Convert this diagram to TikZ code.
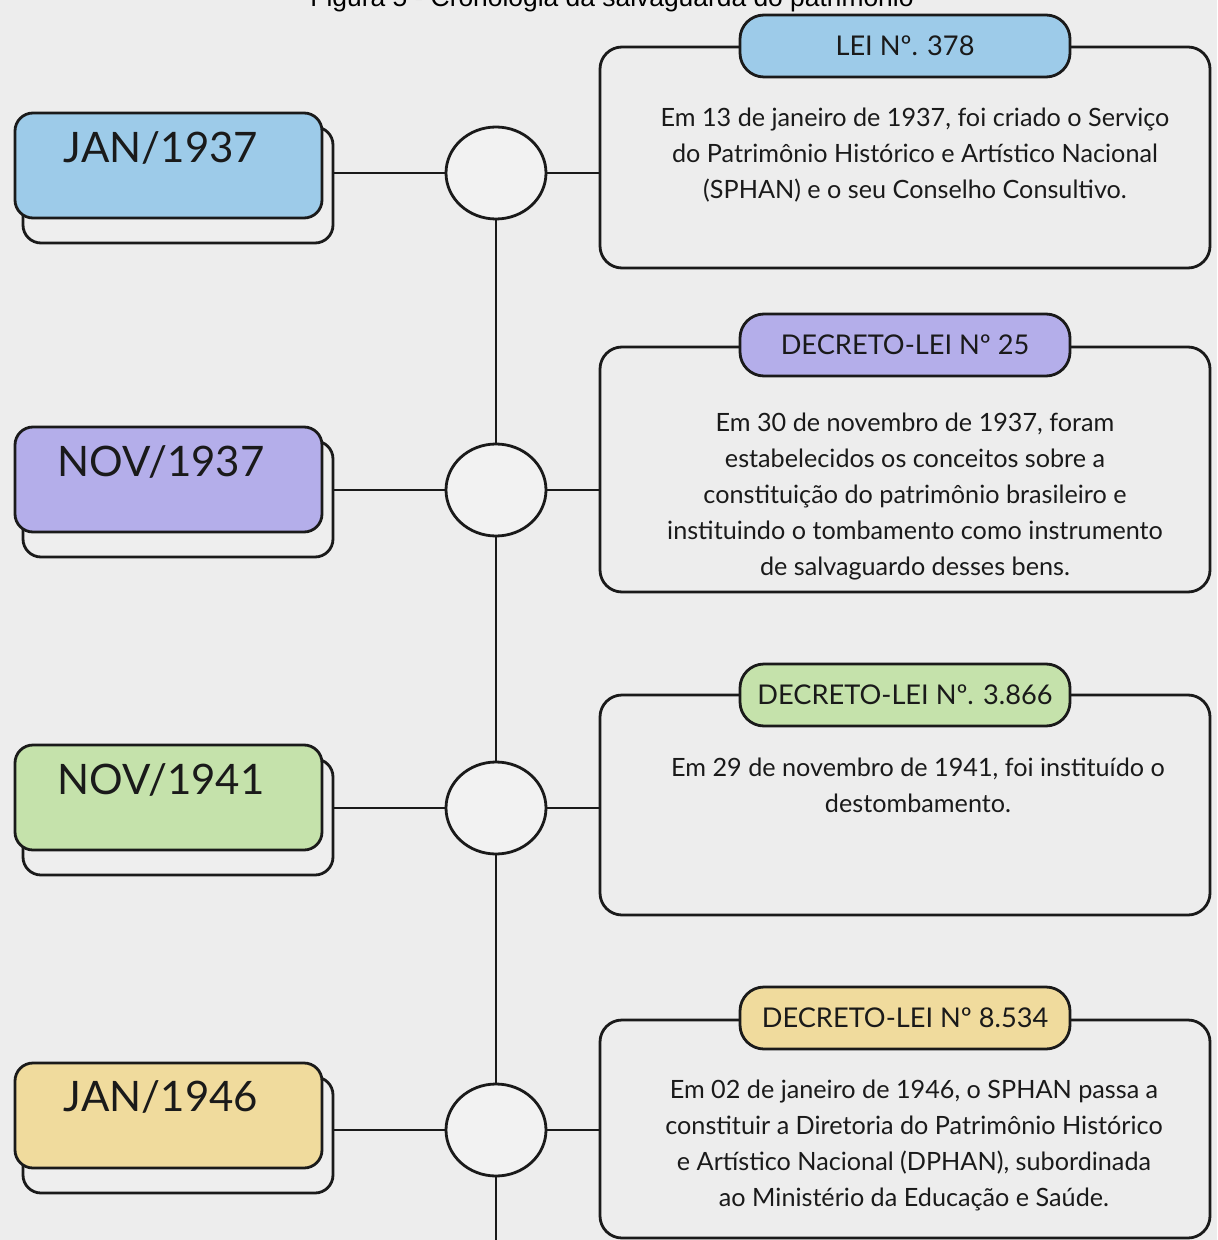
\documentclass[tikz,border=0pt]{standalone}
\usepackage{fontspec}
\setmainfont{Lato}
\newfontfamily\capfont{Liberation Sans}
\usetikzlibrary{shapes.geometric}
\definecolor{bgc}{HTML}{EDEDED}
\definecolor{backfill}{HTML}{EEEEEE}
\definecolor{circfill}{HTML}{F2F2F2}
\definecolor{ink}{HTML}{1A1A1A}
\definecolor{cblue}{HTML}{9DCBE9}
\definecolor{cpurple}{HTML}{B4AEEA}
\definecolor{cgreen}{HTML}{C5E2AB}
\definecolor{cyellow}{HTML}{F0DB9D}
\tikzset{
  datefront/.style={draw=ink, rounded corners=9pt, minimum width=153.5pt, minimum height=52.5pt, inner sep=0pt},
  dateback/.style={draw=ink, fill=backfill, rounded corners=9pt, minimum width=155pt, minimum height=58pt, inner sep=0pt},
  datelabel/.style={font=\fontsize{21pt}{24pt}\selectfont, text=ink, inner sep=0pt},
  dot/.style={draw=ink, ellipse, fill=circfill, minimum width=50pt, minimum height=46pt, inner sep=0pt},
  infobox/.style={draw=ink, rounded corners=11pt, minimum width=305pt, inner sep=0pt},
  pill/.style={draw=ink, rounded corners=12pt, minimum width=165pt, minimum height=31pt, inner sep=0pt, font=\fontsize{13.6pt}{16pt}\selectfont, text=ink},
  bodytext/.style={align=center, font=\fontsize{12.6pt}{18pt}\selectfont, text=ink, inner sep=0pt},
  link/.style={draw=ink, line width=1.4pt}
}
\begin{document}
\begin{tikzpicture}[x=0.5pt, y=-0.5pt, line width=1.4pt]
\fill[bgc] (0,0) rectangle (1217,1240);
\useasboundingbox (0,0) rectangle (1217,1240);
\clip (0,0) rectangle (1217,1240);

% caption (cut at top, as in the reference)
\node[font=\capfont\fontsize{13.2pt}{15pt}\selectfont, anchor=base, inner sep=0pt] (cap) at (612,7) {Figura 5 - Cronologia da salvaguarda do patrimônio};

% ---------- date boxes ----------
\node[dateback] (d1b) at (178,185) {};
\node[datefront, fill=cblue] (d1) at (168.5,165.5) {};
\node[datelabel] (d1t) at (161,148) {JAN/1937};

\node[dateback] (d2b) at (178,499) {};
\node[datefront, fill=cpurple] (d2) at (168.5,479.5) {};
\node[datelabel] (d2t) at (161,462) {NOV/1937};

\node[dateback] (d3b) at (178,817) {};
\node[datefront, fill=cgreen] (d3) at (168.5,797.5) {};
\node[datelabel] (d3t) at (161,780) {NOV/1941};

\node[dateback] (d4b) at (178,1135) {};
\node[datefront, fill=cyellow] (d4) at (168.5,1115.5) {};
\node[datelabel] (d4t) at (161,1097) {JAN/1946};

% ---------- info boxes ----------
\node[infobox, minimum height=110.5pt] (b1) at (905,157.5) {};
\node[pill, fill=cblue] (p1) at (905,46) {LEI Nº. 378};
\node[bodytext] (t1) at (915,155) {Em 13 de janeiro de 1937, foi criado o Serviço\\do Patrimônio Histórico e Artístico Nacional\\(SPHAN) e o seu Conselho Consultivo.};

\node[infobox, minimum height=122.5pt] (b2) at (905,469.5) {};
\node[pill, fill=cpurple] (p2) at (905,345) {DECRETO-LEI Nº 25};
\node[bodytext] (t2) at (915,497) {Em 30 de novembro de 1937, foram\\estabelecidos os conceitos sobre a\\constituição do patrimônio brasileiro e\\instituindo o tombamento como instrumento\\de salvaguardo desses bens.};

\node[infobox, minimum height=110pt] (b3) at (905,805) {};
\node[pill, fill=cgreen] (p3) at (905,695) {DECRETO-LEI Nº. 3.866};
\node[bodytext] (t3) at (918,785) {Em 29 de novembro de 1941, foi instituído o\\destombamento.};

\node[infobox, minimum height=109pt] (b4) at (905,1129) {};
\node[pill, fill=cyellow] (p4) at (905,1018) {DECRETO-LEI Nº 8.534};
\node[bodytext] (t4) at (914,1145) {Em 02 de janeiro de 1946, o SPHAN passa a\\constituir a Diretoria do Patrimônio Histórico\\e Artístico Nacional (DPHAN), subordinada\\ao Ministério da Educação e Saúde.};

% ---------- timeline ----------
\node[dot] (c1) at (496,173) {};
\node[dot] (c2) at (496,490) {};
\node[dot] (c3) at (496,808) {};
\node[dot] (c4) at (496,1130) {};
\coordinate (bot) at (496,1250);

\draw[link] (c1.south) -- (c2.north);
\draw[link] (c2.south) -- (c3.north);
\draw[link] (c3.south) -- (c4.north);
\draw[link] (c4.south) -- (bot);

\foreach \i in {1,2,3,4}{
  \draw[link] (d\i b.east |- c\i.west) -- (c\i.west);
  \draw[link] (c\i.east) -- (b\i.west |- c\i.east);
}
\end{tikzpicture}
\end{document}
